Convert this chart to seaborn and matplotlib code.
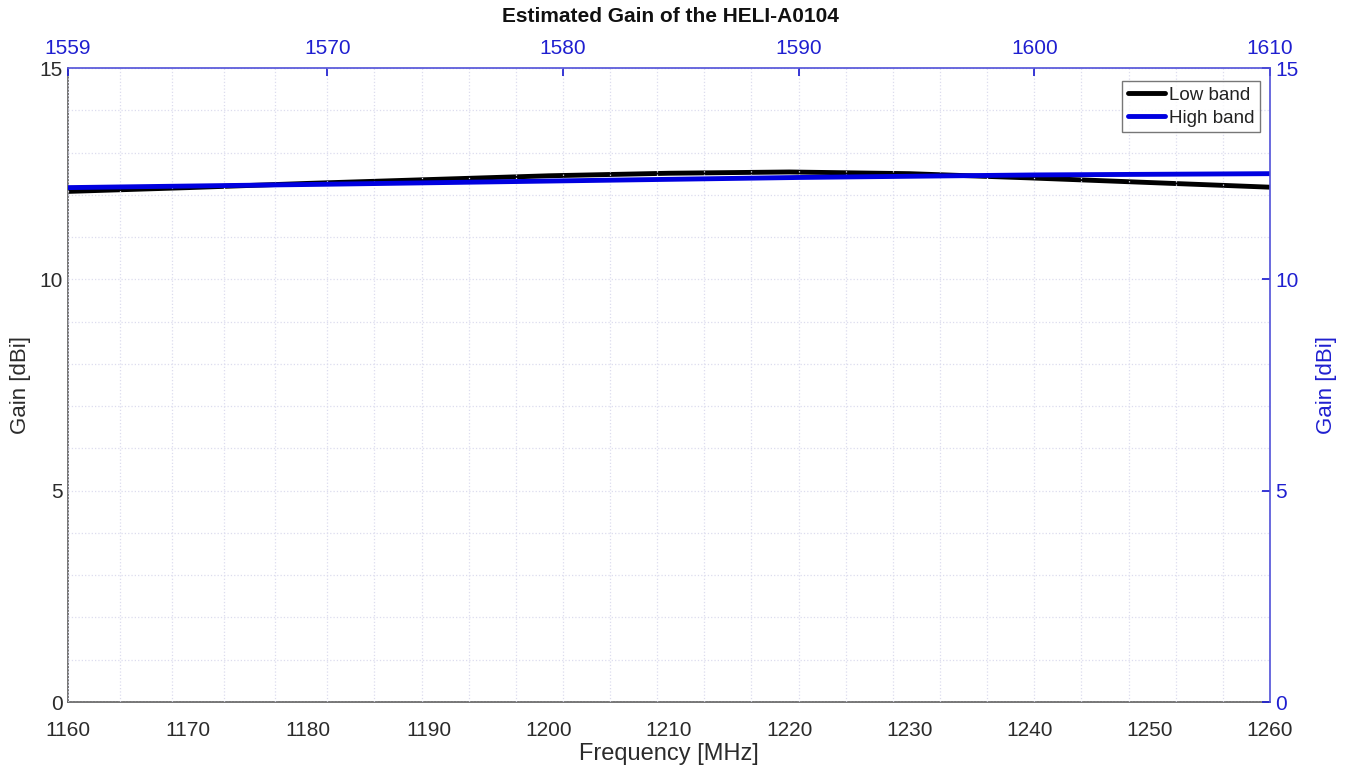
import matplotlib
matplotlib.use("Agg")
import matplotlib.pyplot as plt
import seaborn as sns
import pandas as pd
import numpy as np
from matplotlib.ticker import FixedLocator
from matplotlib.lines import Line2D

sns.set_theme(style="white")
plt.rcParams['font.family'] = ['Liberation Sans', 'DejaVu Sans']

# Low band (bottom axis, MHz)
low_freq = [1160, 1170, 1180, 1190, 1200, 1210, 1220, 1230, 1240, 1250, 1260]
low_gain = [12.08, 12.17, 12.27, 12.36, 12.45, 12.51, 12.54, 12.50, 12.40, 12.29, 12.18]
# High band (top axis, MHz)
high_freq = [1559, 1570, 1580, 1590, 1600, 1610]
high_gain = [12.17, 12.25, 12.33, 12.41, 12.47, 12.50]

bottom_ticks = [1160, 1170, 1180, 1190, 1200, 1210, 1220, 1230, 1240, 1250, 1260]
top_ticks = [1559, 1570, 1580, 1590, 1600, 1610]
y_ticks = [0, 5, 10, 15]

BLUE = "#1f1fd0"
GREY = "#2b2b2b"
GRID = "#dcdcee"

fig = plt.figure(figsize=(13.48, 7.69), dpi=100)
pos = [68/1348, 1 - 702/769, (1270-68)/1348, (702-68)/769]
ax = fig.add_axes(pos)
ax2 = fig.add_axes(pos, facecolor="none")

low_df = pd.DataFrame({"f": low_freq, "g": low_gain})
high_df = pd.DataFrame({"f": high_freq, "g": high_gain})

sns.lineplot(data=low_df, x="f", y="g", ax=ax, color="black", linewidth=3.5)
sns.lineplot(data=high_df, x="f", y="g", ax=ax2, color="#0000e0", linewidth=3.5)

ax.set_xlim(1160, 1260)
ax.set_ylim(0, 15)
ax2.set_xlim(1559, 1610)
ax2.set_ylim(0, 15)

ax.set_xticks(bottom_ticks)
ax.set_yticks(y_ticks)
ax.set_xlabel("Frequency [MHz]", fontsize=17, color=GREY, labelpad=2)
ax.set_ylabel("Gain [dBi]", fontsize=16, color=GREY, labelpad=6)
ax.tick_params(axis="both", direction="in", length=6, labelsize=15, colors=GREY,
               top=False, right=False, pad=4)
ax.tick_params(axis="x", pad=14)
for s in ["top", "right"]:
    ax.spines[s].set_visible(False)
for s in ["left", "bottom"]:
    ax.spines[s].set_color("#6a6a6a")
    ax.spines[s].set_linewidth(1.3)

ax2.xaxis.tick_top()
ax2.xaxis.set_label_position("top")
ax2.yaxis.tick_right()
ax2.yaxis.set_label_position("right")
ax2.set_xticks(top_ticks)
ax2.set_yticks(y_ticks)
minor_x = [1561.2, 1563.4, 1565.6, 1567.8] + [v for v in range(1572, 1610, 2) if v % 10 != 0]
ax2.xaxis.set_minor_locator(FixedLocator(minor_x))
ax2.yaxis.set_minor_locator(FixedLocator([v for v in range(1, 15) if v % 5 != 0]))
ax2.tick_params(axis="both", which="major", direction="in", length=6, labelsize=15,
                colors=BLUE, pad=4)
ax2.tick_params(axis="x", which="major", pad=7)
ax2.tick_params(axis="both", which="minor", length=0)
ax2.set_ylabel("Gain [dBi]", fontsize=16, color=BLUE, rotation=90, labelpad=12)
ax2.set_xlabel("")
for s in ["top", "right"]:
    ax2.spines[s].set_color("#5050d8")
    ax2.spines[s].set_linewidth(1.2)
for s in ["left", "bottom"]:
    ax2.spines[s].set_visible(False)
ax2.grid(True, which="both", color=GRID, linestyle=":", linewidth=0.9)
ax.set_zorder(1)
ax2.set_zorder(2)

handles = [Line2D([], [], color="black", linewidth=3.5),
           Line2D([], [], color="#0000e0", linewidth=3.5)]
leg = ax2.legend(handles, ["Low band", "High band"], loc="upper right",
                 bbox_to_anchor=(0.995, 0.985), fontsize=13.5, frameon=True,
                 fancybox=False, handlelength=2.0, handletextpad=0.2,
                 borderpad=0.3, labelspacing=0.3, borderaxespad=0.2)
leg.get_frame().set_edgecolor("#555555")
leg.get_frame().set_linewidth(1.0)
for t in leg.get_texts():
    t.set_color("#222222")

fig.text(0.497, 1 - 17/769, "Estimated Gain of the HELI-A0104", ha="center", va="center",
         fontsize=15, fontweight="bold", color="#111111")

fig.savefig("out.png", dpi=100, facecolor="white")
